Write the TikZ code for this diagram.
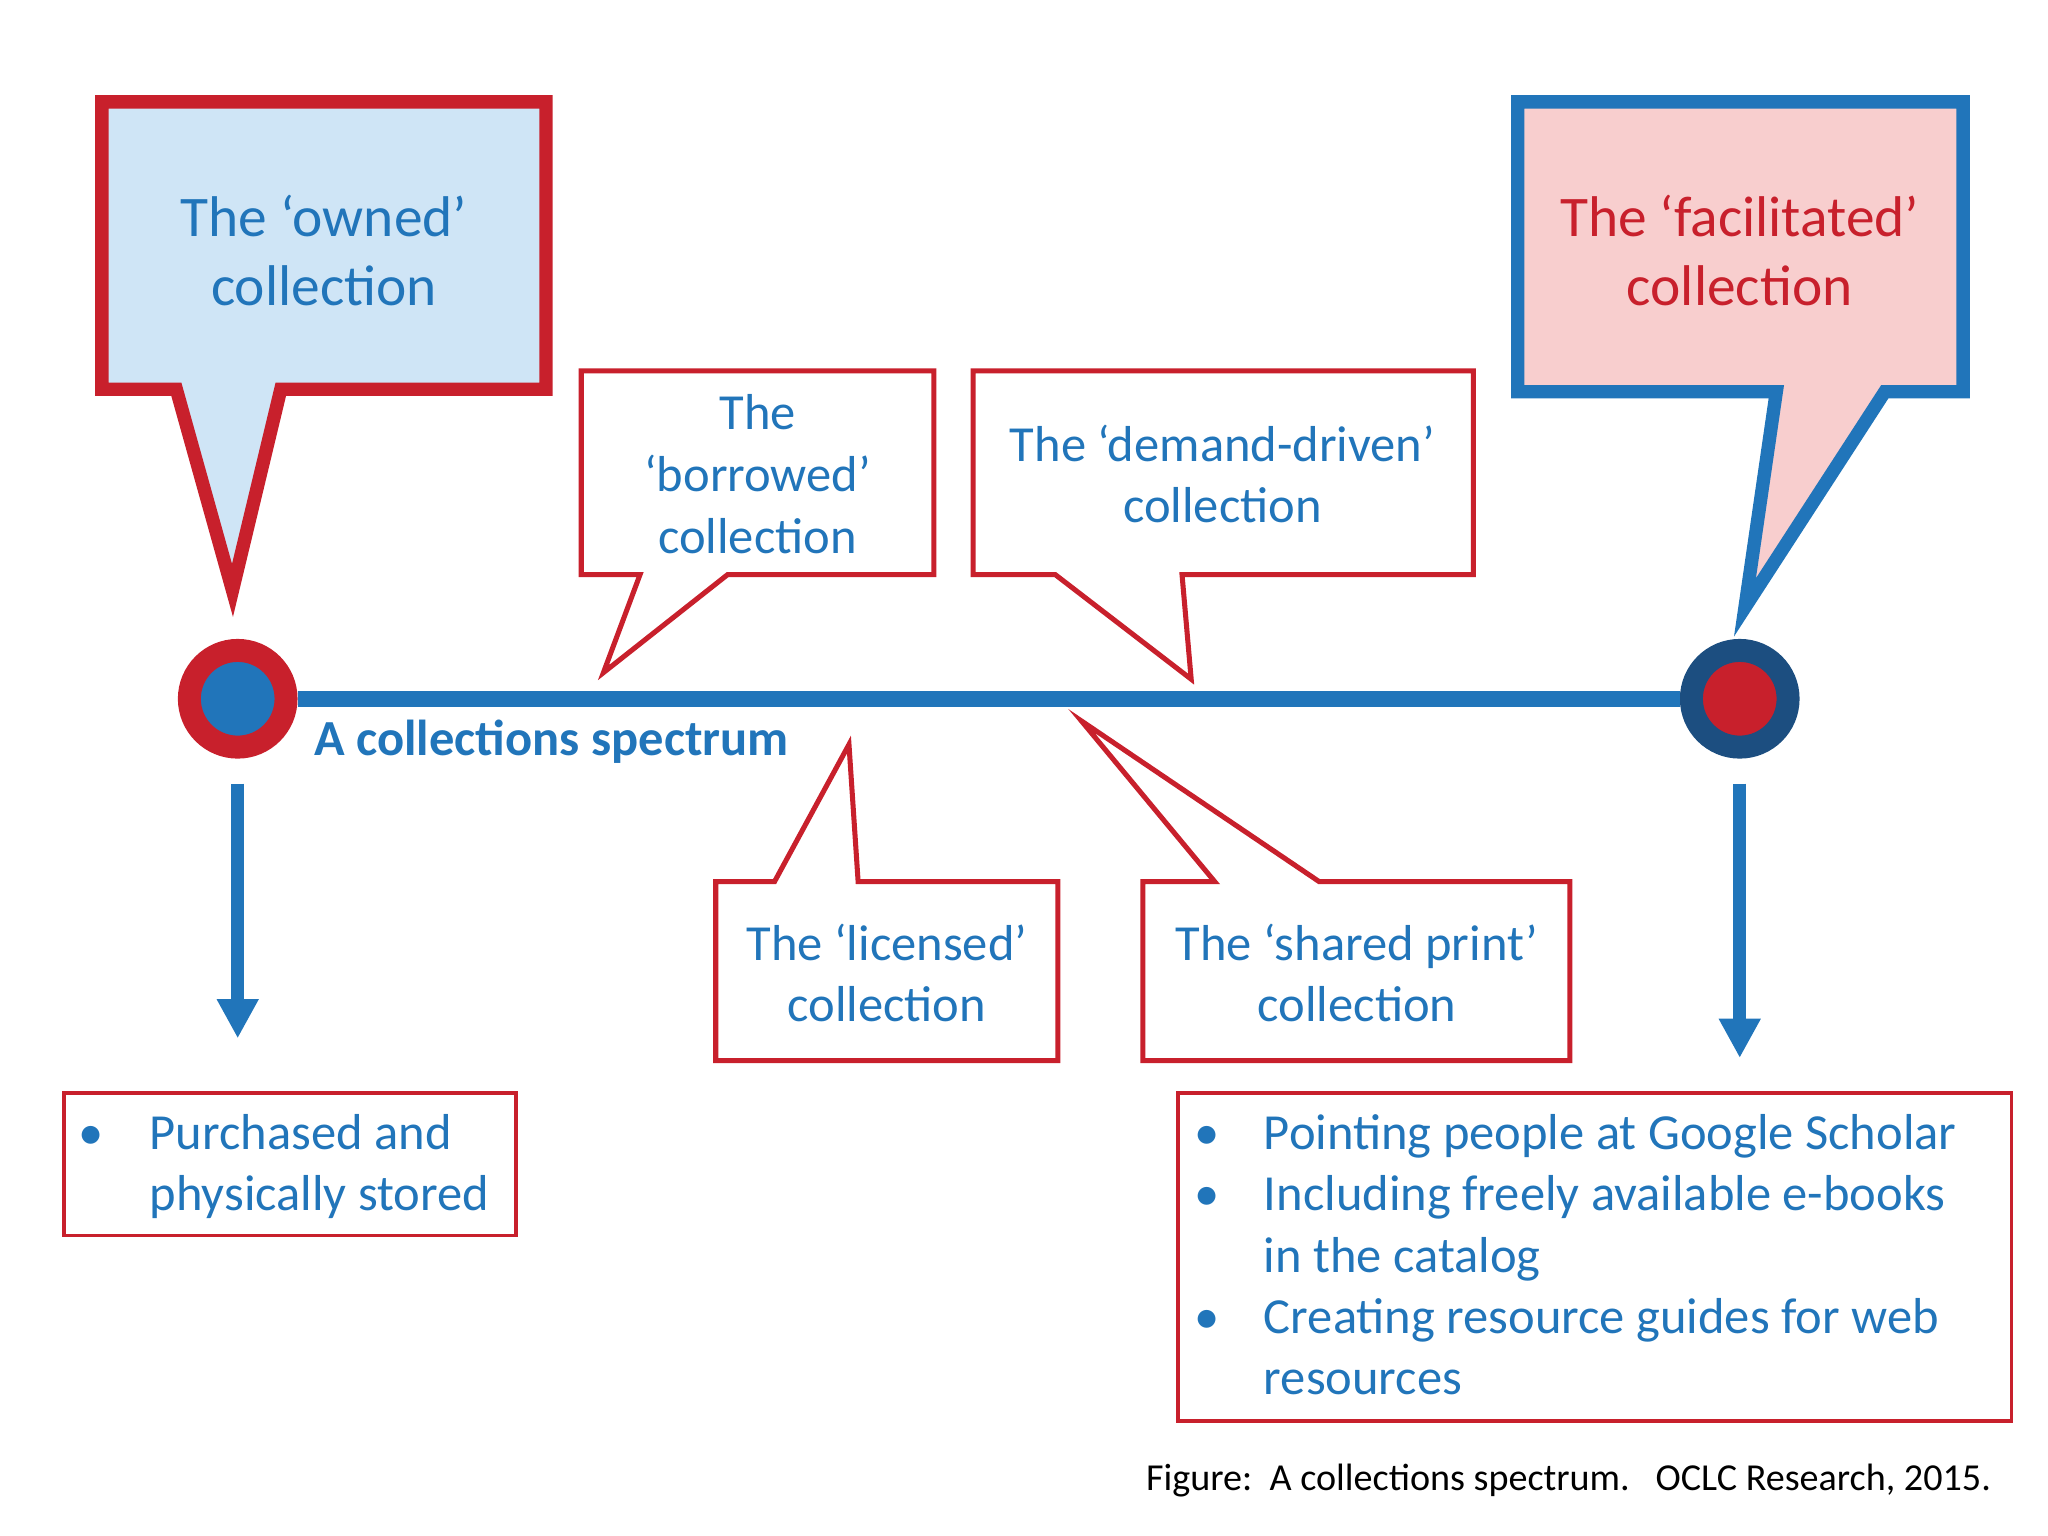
\documentclass[tikz,border=0pt]{standalone}
\usepackage{fontspec}
\setmainfont{Carlito}
\usetikzlibrary{arrows.meta}
\definecolor{cblue}{RGB}{33,117,186}
\definecolor{cred}{RGB}{200,32,44}
\definecolor{lblue}{RGB}{207,229,246}
\definecolor{lpink}{RGB}{248,206,206}
\definecolor{dblue}{RGB}{28,78,128}
\begin{document}
\begin{tikzpicture}[x=0.01cm,y=-0.01cm,
  thick callout/.style={line width=2.9pt,line join=miter},
  thin callout/.style={draw=cred,line width=1.1pt,fill=white,line join=miter},
  txt/.style={text=cblue,align=center,font=\fontsize{11}{13.4}\selectfont},
  big/.style={align=center,font=\fontsize{12.5}{15}\selectfont},
  item/.style={anchor=base west,text=cblue,font=\fontsize{11}{13.4}\selectfont,inner sep=0},
  dot/.style={anchor=base,text=cblue,font=\fontsize{11}{13.4}\selectfont,inner sep=0}]
\useasboundingbox (0,0) rectangle (1568,1176);
% big callouts
\draw[thick callout,draw=cred,fill=lblue] (78,78) -- (418,78) -- (418,298) -- (215,298) -- (178,452) -- (135,298) -- (78,298) -- cycle;
\node[big,text=cblue] (owned) at (248,192) {The ‘owned’\\collection};
\draw[thick callout,draw=cblue,fill=lpink] (1162,78) -- (1503,78) -- (1503,300) -- (1443,300) -- (1336,465) -- (1360,300) -- (1162,300) -- cycle;
\node[big,text=cred] (fac) at (1332,192) {The ‘facilitated’\\collection};
% thin callouts
\draw[thin callout] (445,284) -- (715,284) -- (715,440) -- (557,440) -- (462,515) -- (490,440) -- (445,440) -- cycle;
\node[txt] (bor) at (580,363) {The\\‘borrowed’\\collection};
\draw[thin callout] (745,284) -- (1128,284) -- (1128,440) -- (905,440) -- (912,520) -- (808,440) -- (745,440) -- cycle;
\node[txt] (dem) at (936,363) {The ‘demand-driven’\\collection};
\draw[thin callout] (548,675) -- (593,675) -- (650,570) -- (657,675) -- (810,675) -- (810,812) -- (548,812) -- cycle;
\node[txt] (lic) at (679,745) {The ‘licensed’\\collection};
\draw[thin callout] (875,675) -- (930,675) -- (828,552) -- (1010,675) -- (1202,675) -- (1202,812) -- (875,812) -- cycle;
\node[txt] (sha) at (1039,745) {The ‘shared print’\\collection};
% spectrum line
\node[circle,draw=cred,fill=cblue,line width=5pt,minimum size=0.74cm,inner sep=0] (L) at (182,535) {};
\node[circle,draw=dblue,fill=cred,line width=5pt,minimum size=0.74cm,inner sep=0] (R) at (1332,535) {};
\draw[cblue,line width=3.4pt] (L) -- (R);
\node[anchor=west,text=cblue,font=\fontsize{11}{13}\selectfont\bfseries,inner sep=0] (spec) at (240,568) {A collections spectrum};
% arrows
\coordinate (la) at (182,600); \coordinate (lb) at (182,795);
\coordinate (ra) at (1332,600); \coordinate (rb) at (1332,810);
\draw[cblue,line width=2.8pt,-{Triangle[length=0.3cm,width=0.3cm]}] (la) -- (lb);
\draw[cblue,line width=2.8pt,-{Triangle[length=0.3cm,width=0.3cm]}] (ra) -- (rb);
% lists
\draw[draw=cred,line width=0.8pt] (49,837) rectangle (395,946);
\node[dot] (d1) at (70,880) {•};
\node[item] (i1) at (114,880) {Purchased and};
\node[item] (i2) at (114,927) {physically stored};
\draw[draw=cred,line width=0.8pt] (902,837) rectangle (1540,1088);
\node[dot] (e1) at (924,880) {•};
\node[item] (j1) at (967,880) {Pointing people at Google Scholar};
\node[dot] (e2) at (924,927) {•};
\node[item] (j2) at (967,927) {Including freely available e-books};
\node[item] (j3) at (967,974) {in the catalog};
\node[dot] (e3) at (924,1021) {•};
\node[item] (j4) at (967,1021) {Creating resource guides for web};
\node[item] (j5) at (967,1068) {resources};
\node[anchor=base east,inner sep=0,font=\fontsize{8.3}{10}\selectfont] (cap) at (1525,1141) {Figure:\ \ A collections spectrum.\ \ \ OCLC Research, 2015.};
\end{tikzpicture}
\end{document}
